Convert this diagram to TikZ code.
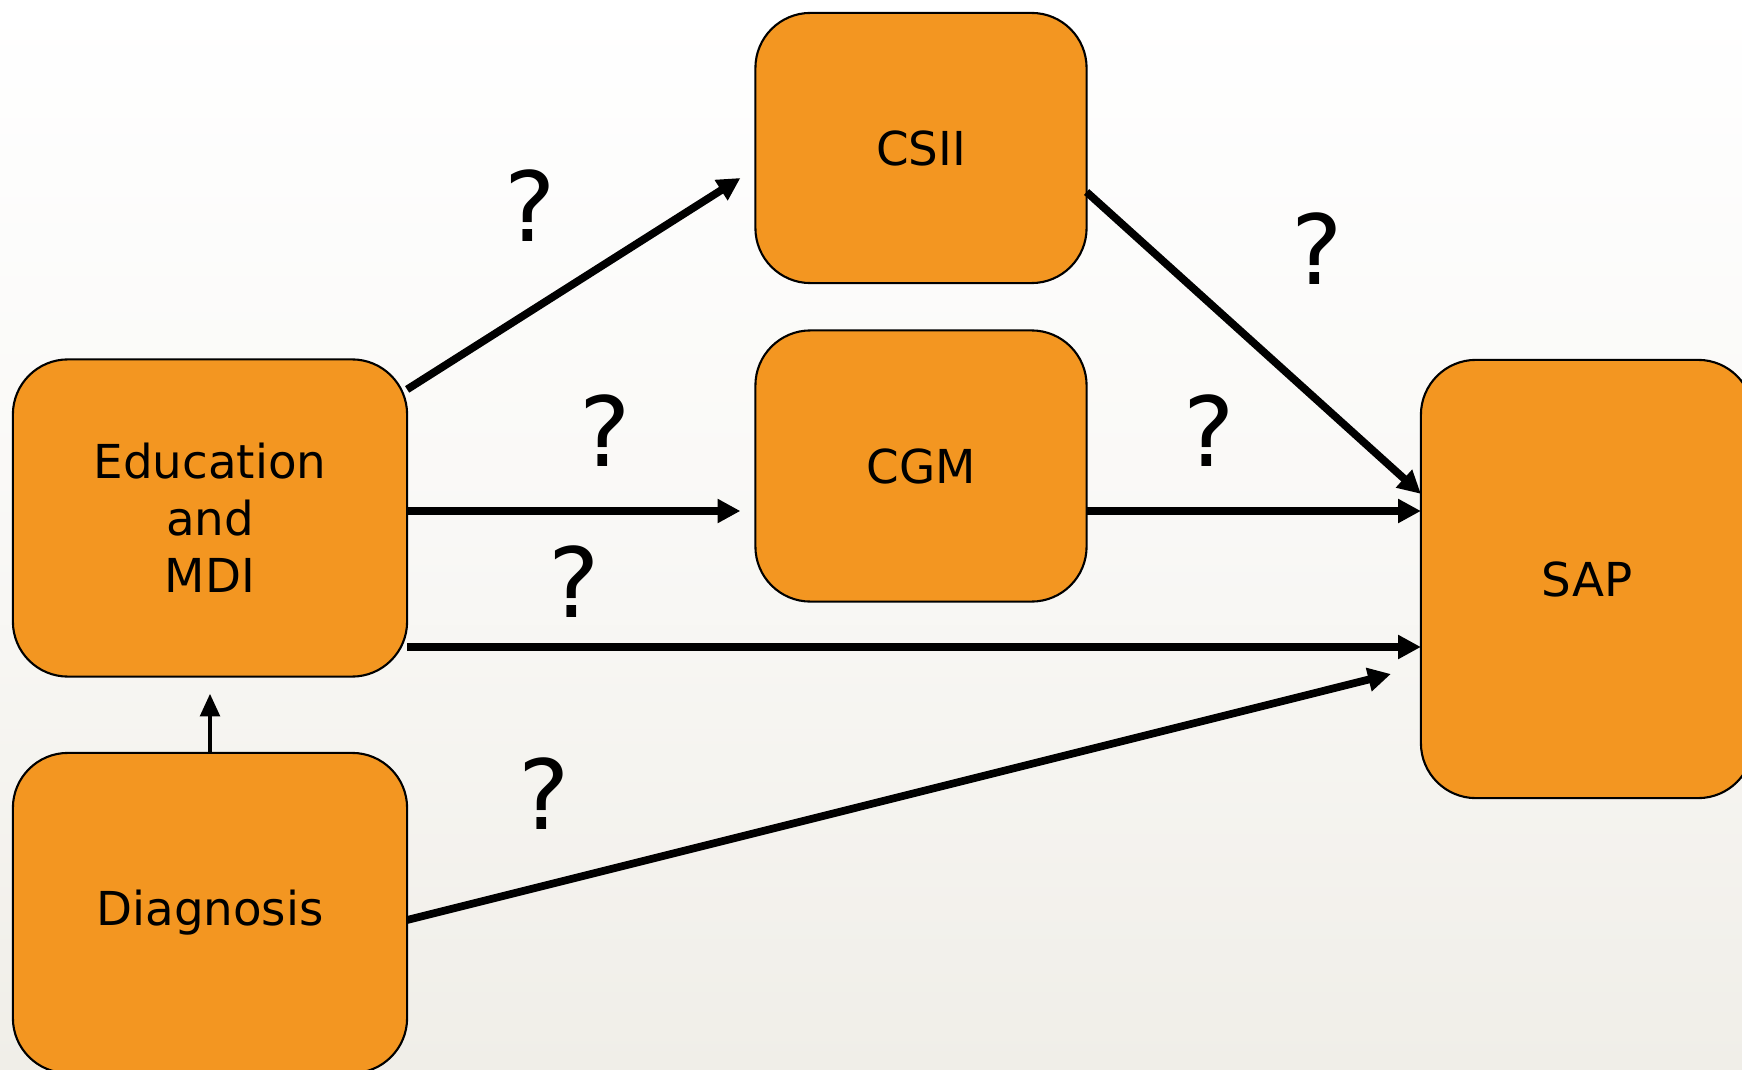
\documentclass[tikz,border=0pt]{standalone}
\usepackage{fontspec}
\setmainfont{DejaVu Sans}
\usetikzlibrary{positioning, arrows.meta, calc}
\definecolor{boxOrange}{RGB}{243,150,33}
\definecolor{bgWash}{RGB}{240,238,232}

\begin{document}
\begin{tikzpicture}[x=0.01cm, y=-0.01cm,
		box/.style={draw=black, line width=0.6pt, fill=boxOrange, rounded corners=0.55cm, outer sep=0pt,
			align=center, font=\fontsize{13.3}{16.2}\selectfont},
		arr/.style={-{Triangle[length=6.5pt, width=6.5pt]}, line width=2.2pt},
		thinarr/.style={-{Triangle[length=6.5pt, width=5.5pt]}, line width=1.3pt},
		qmark/.style={font=\fontsize{27.5}{30}\selectfont}]
		\clip (0,0) rectangle (1742,1070);
		\shade[top color=white, bottom color=bgWash, middle color=white!60!bgWash] (0,0) rectangle (1742,1070);
		\node[box, minimum width=3.94cm, minimum height=3.17cm] (edu) at (210,518) {Education\\and\\MDI};
		\node[box, minimum width=3.94cm, minimum height=3.20cm] (diag) at (210,913) {Diagnosis};
		\node[box, minimum width=3.31cm, minimum height=2.70cm] (csii) at (921,148) {CSII};
		\node[box, minimum width=3.31cm, minimum height=2.71cm] (cgm) at (921,466) {CGM};
		\node[box, minimum width=3.32cm, minimum height=4.38cm] (sap) at (1587,579) {SAP};
		\coordinate (midrow) at (0,511);
		\coordinate (lowrow) at (0,647);
		\draw[arr] ($(edu.north east)+(0,30)$) -- ($(csii.west)+(-15,30)$);
		\draw[arr, shorten >=0.15cm] (edu.east |- midrow) -- (cgm.west |- midrow);
		\draw[arr] ($(csii.east)+(0,44)$) -- ($(sap.north west)+(0,134)$);
		\draw[arr] (cgm.east |- midrow) -- (sap.west |- midrow);
		\draw[arr] (edu.east |- lowrow) -- (sap.west |- lowrow);
		\draw[arr] ($(diag.east)+(0,7)$) -- ($(sap.west)+(-30,95)$);
		\draw[thinarr, shorten >=0.17cm] (diag.north) -- (edu.south);
		\node[qmark] (q1) at (530,206) {?};
		\node[qmark] (q2) at (605,431) {?};
		\node[qmark] (q3) at (574,582) {?};
		\node[qmark] (q4) at (1209,431) {?};
		\node[qmark] (q5) at (1317,249) {?};
		\node[qmark] (q6) at (544,794) {?};
	\end{tikzpicture}
\end{document}
